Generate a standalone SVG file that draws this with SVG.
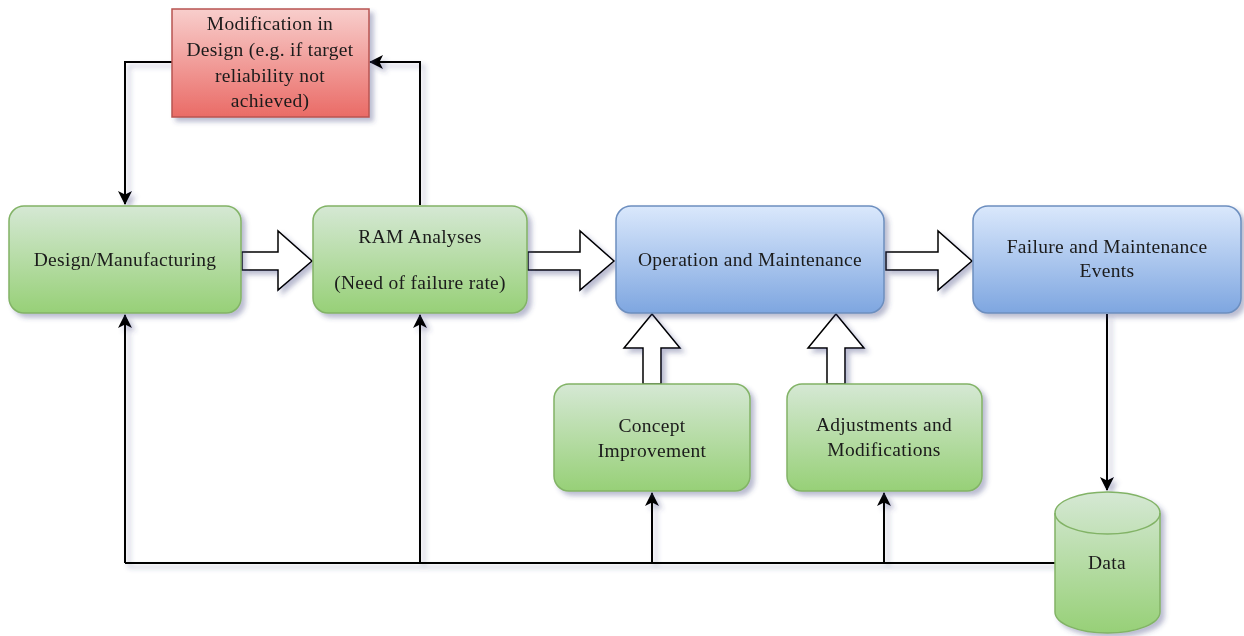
<svg xmlns="http://www.w3.org/2000/svg" width="1244" height="636" viewBox="0 0 1244 636">
  <defs>
    <linearGradient id="gGreen" x1="0" y1="0" x2="0" y2="1">
      <stop offset="0" stop-color="#d5e8d4"/>
      <stop offset="1" stop-color="#97d077"/>
    </linearGradient>
    <linearGradient id="gBlue" x1="0" y1="0" x2="0" y2="1">
      <stop offset="0" stop-color="#dae8fc"/>
      <stop offset="1" stop-color="#7ea6e0"/>
    </linearGradient>
    <linearGradient id="gRed" x1="0" y1="0" x2="0" y2="1">
      <stop offset="0" stop-color="#f8cecc"/>
      <stop offset="1" stop-color="#ea6b66"/>
    </linearGradient>
    <filter id="shadow" x="-10%" y="-10%" width="130%" height="140%">
      <feGaussianBlur in="SourceAlpha" stdDeviation="2.5"/>
      <feOffset dx="4" dy="4" result="b"/>
      <feFlood flood-color="#3a3f7a" flood-opacity="0.35"/>
      <feComposite in2="b" operator="in"/>
      <feMerge>
        <feMergeNode/>
        <feMergeNode in="SourceGraphic"/>
      </feMerge>
    </filter>
    <marker id="arrow" viewBox="0 0 14 14" refX="13" refY="7" markerWidth="14" markerHeight="14" markerUnits="userSpaceOnUse" orient="auto">
      <path d="M0,0 L14,7 L0,14 L3.5,7 Z" fill="#000"/>
    </marker>
  </defs>
  <style>
    .green { fill: url(#gGreen); stroke: #82b366; stroke-width: 1.5; }
    .blue { fill: url(#gBlue); stroke: #6c8ebf; stroke-width: 1.5; }
    .red { fill: url(#gRed); stroke: #b85450; stroke-width: 1.5; }
    .node { filter: url(#shadow); }
    .label { font-family: "Liberation Serif", "DejaVu Serif", serif; font-size: 19.5px; letter-spacing: 0.3px; fill: #1a1a1a; text-anchor: middle; }
    .link { fill: none; stroke: #000; stroke-width: 2; marker-end: url(#arrow); }
    .line { fill: none; stroke: #000; stroke-width: 2; }
    .block { fill: #fff; stroke: #000; stroke-width: 1.5; stroke-linejoin: miter; }
  </style>

  <!-- connectors -->
  <g id="connectors" filter="url(#shadow)">
    <!-- feedback loop through the design modification box -->
    <polyline class="link" points="172,62 125,62 125,204"/>
    <polyline class="link" points="420,205 420,62 370,62"/>
    <!-- failure events down to data store -->
    <polyline class="link" points="1107,314 1107,490"/>
    <!-- data distribution bus -->
    <polyline class="line" points="1055,563 125,563"/>
    <polyline class="link" points="125,563 125,315"/>
    <polyline class="link" points="420,563 420,315"/>
    <polyline class="link" points="652,563 652,493"/>
    <polyline class="link" points="884,563 884,493"/>
    <!-- hollow block arrows -->
    <path class="block" d="M242,252 L278,252 L278,231 L312,261 L278,290 L278,270 L242,270 Z"/>
    <path class="block" d="M528,252 L580,252 L580,231 L614,261 L580,290 L580,270 L528,270 Z"/>
    <path class="block" d="M886,252 L938,252 L938,231 L972,261 L938,290 L938,270 L886,270 Z"/>
    <path class="block" d="M643,384 L643,348 L624,348 L652,314 L680,348 L661,348 L661,384 Z"/>
    <path class="block" d="M827,384 L827,348 L808,348 L836,314 L864,348 L845,348 L845,384 Z"/>
  </g>

  <g id="modification" class="node">
    <rect class="red" x="172" y="9" width="197" height="108"/>
    <text class="label" x="270" y="30">Modification in</text>
    <text class="label" x="270" y="56">Design (e.g. if target</text>
    <text class="label" x="270" y="82">reliability not</text>
    <text class="label" x="270" y="107">achieved)</text>
  </g>

  <g id="design" class="node">
    <rect class="green" x="9" y="206" width="232" height="107" rx="15"/>
    <text class="label" x="125" y="266">Design/Manufacturing</text>
  </g>

  <g id="ram" class="node">
    <rect class="green" x="313" y="206" width="214" height="107" rx="15"/>
    <text class="label" x="420" y="243">RAM Analyses</text>
    <text class="label" x="420" y="289">(Need of failure rate)</text>
  </g>

  <g id="operation" class="node">
    <rect class="blue" x="616" y="206" width="268" height="107" rx="15"/>
    <text class="label" x="750" y="266">Operation and Maintenance</text>
  </g>

  <g id="failure" class="node">
    <rect class="blue" x="973" y="206" width="268" height="107" rx="15"/>
    <text class="label" x="1107" y="253">Failure and Maintenance</text>
    <text class="label" x="1107" y="277">Events</text>
  </g>

  <g id="concept" class="node">
    <rect class="green" x="554" y="384" width="196" height="107" rx="15"/>
    <text class="label" x="652" y="432">Concept</text>
    <text class="label" x="652" y="457">Improvement</text>
  </g>

  <g id="adjustments" class="node">
    <rect class="green" x="787" y="384" width="195" height="107" rx="15"/>
    <text class="label" x="884" y="431">Adjustments and</text>
    <text class="label" x="884" y="456">Modifications</text>
  </g>

  <g id="data" class="node">
    <path class="green" d="M1055,513 A52.5,21 0 0 1 1160,513 L1160,612 A52.5,21 0 0 1 1055,612 Z"/>
    <path fill="none" stroke="#82b366" stroke-width="1.5" d="M1055,513 A52.5,21 0 0 0 1160,513"/>
    <text class="label" x="1107" y="569">Data</text>
  </g>
</svg>
